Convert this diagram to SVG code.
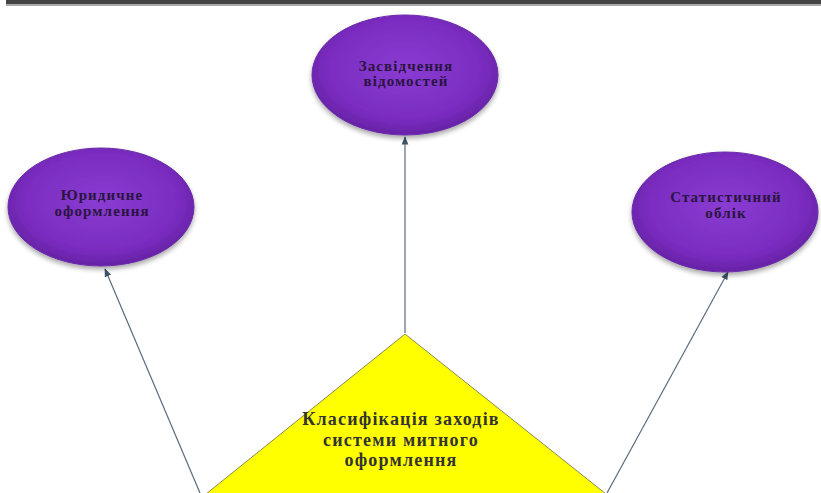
<svg xmlns="http://www.w3.org/2000/svg" width="821" height="493" viewBox="0 0 821 493">
<defs>
<radialGradient id="pg" cx="50%" cy="45%" r="60%">
<stop offset="0" stop-color="#8a3cd2"/>
<stop offset="0.7" stop-color="#7a2cc0"/>
<stop offset="1" stop-color="#5e1e9a"/>
</radialGradient>
<filter id="sh" x="-20%" y="-20%" width="140%" height="150%">
<feGaussianBlur in="SourceAlpha" stdDeviation="2.5"/>
<feOffset dy="3" result="b"/>
<feComponentTransfer><feFuncA type="linear" slope="0.35"/></feComponentTransfer>
<feMerge><feMergeNode/><feMergeNode in="SourceGraphic"/></feMerge>
</filter>
<marker id="ah" viewBox="0 0 10 10" refX="9" refY="5" markerWidth="7" markerHeight="7" orient="auto">
<path d="M0,1 L10,5 L0,9 Z" fill="#3e5468"/>
</marker>
</defs>
<style>
.el{fill:url(#pg);stroke:#6a2aa8;stroke-width:1;filter:url(#sh)}
.et{font-family:"Liberation Serif","DejaVu Serif",serif;font-size:15px;fill:#2a1440;text-anchor:middle;font-weight:bold;letter-spacing:1.1px}
.tt{font-family:"Liberation Serif","DejaVu Serif",serif;font-size:18px;fill:#333;text-anchor:middle;font-weight:bold;letter-spacing:1.2px}
.cn{stroke:#5a6c7e;stroke-width:1.2;fill:none;marker-end:url(#ah)}
</style>
<rect x="0" y="0" width="821" height="493" fill="#fff"/>
<rect x="6" y="0" width="815" height="4" fill="#444"/>
<rect x="6" y="4" width="815" height="2" fill="#aaa"/>
<g id="connectors">
<line class="cn" x1="405" y1="333" x2="405" y2="137"/>
<line class="cn" x1="200" y1="493" x2="105" y2="269"/>
<line class="cn" x1="607" y1="493" x2="728" y2="272"/>
</g>
<g id="node-top">
<ellipse class="el" cx="405" cy="75" rx="93" ry="60"/>
<text class="et" x="406" y="71">Засвідчення</text>
<text class="et" x="406" y="86">відомостей</text>
</g>
<g id="node-left">
<ellipse class="el" cx="101" cy="207" rx="93" ry="59"/>
<text class="et" x="102" y="200">Юридичне</text>
<text class="et" x="102" y="216">оформлення</text>
</g>
<g id="node-right">
<ellipse class="el" cx="725" cy="212" rx="93" ry="60"/>
<text class="et" x="726" y="202">Статистичний</text>
<text class="et" x="726" y="218">облік</text>
</g>
<g id="node-center">
<polygon points="405,334 206,494 606,494" fill="#ffff00" stroke="#8a8a50" stroke-width="1"/>
<text class="tt" x="401" y="425">Класифікація заходів</text>
<text class="tt" x="401" y="446">системи митного</text>
<text class="tt" x="401" y="466">оформлення</text>
</g>
</svg>
